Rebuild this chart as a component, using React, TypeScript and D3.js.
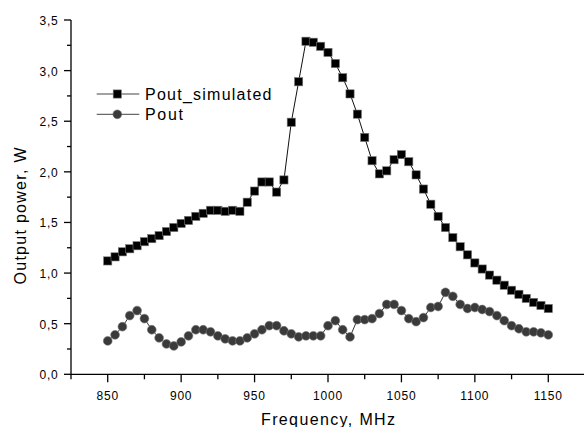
import React from "react";
import * as d3 from "d3";

const freqs: number[] = d3.range(850, 1151, 5);
const poutSimulated: number[] = [
  1.12, 1.16, 1.21, 1.24, 1.27, 1.31, 1.34, 1.37, 1.41, 1.45,
  1.49, 1.52, 1.56, 1.59, 1.62, 1.62, 1.61, 1.62, 1.61, 1.70,
  1.81, 1.90, 1.90, 1.80, 1.92, 2.49, 2.89, 3.29, 3.28, 3.24,
  3.18, 3.07, 2.93, 2.77, 2.57, 2.34, 2.11, 1.98, 2.01, 2.12,
  2.17, 2.10, 1.97, 1.83, 1.68, 1.56, 1.45, 1.35, 1.26, 1.18,
  1.10, 1.04, 0.98, 0.93, 0.88, 0.83, 0.79, 0.75, 0.71, 0.68,
  0.65,
];
const pout: number[] = [
  0.33, 0.39, 0.47, 0.58, 0.63, 0.55, 0.44, 0.36, 0.30, 0.28,
  0.32, 0.38, 0.44, 0.44, 0.42, 0.38, 0.35, 0.33, 0.33, 0.36,
  0.40, 0.44, 0.48, 0.48, 0.43, 0.40, 0.37, 0.38, 0.38, 0.38,
  0.48, 0.53, 0.44, 0.37, 0.54, 0.54, 0.55, 0.60, 0.69, 0.69,
  0.63, 0.55, 0.52, 0.56, 0.66, 0.67, 0.81, 0.77, 0.69, 0.65,
  0.66, 0.64, 0.62, 0.58, 0.53, 0.48, 0.45, 0.42, 0.42, 0.41,
  0.39,
];
const xTicks: number[] = [850, 900, 950, 1000, 1050, 1100, 1150];
const xMinor: number[] = [825, 875, 925, 975, 1025, 1075, 1125, 1175];
const yTicks: number[] = [0, 0.5, 1, 1.5, 2, 2.5, 3, 3.5];
const yMinor: number[] = [0.25, 0.75, 1.25, 1.75, 2.25, 2.75, 3.25];
const seriesNames: string[] = ["Pout_simulated", "Pout"];

const FONT = "Liberation Sans, Arial, sans-serif";

export default function App() {
  const x = d3.scaleLinear().domain([825, 1175]).range([71, 585]);
  const y = d3.scaleLinear().domain([0, 3.5]).range([374.3, 20]);
  const fmt = (v: number) => d3.format(".1f")(v).replace(".", ",");

  const line = d3
    .line<[number, number]>()
    .x((d) => x(d[0]))
    .y((d) => y(d[1]));

  const simPts: [number, number][] = freqs.map((f, i) => [f, poutSimulated[i]]);
  const measPts: [number, number][] = freqs.map((f, i) => [f, pout[i]]);

  const x0 = 71;
  const y0 = 374.3;
  const sq = 8.2;
  const r = 4.4;

  return (
    <svg
      width={584}
      height={427}
      style={{ position: "absolute", left: 0, top: 0, display: "block", background: "#fff" }}
      fontFamily={FONT}
    >
      {/* series lines */}
      <path d={line(measPts) || ""} fill="none" stroke="#333" strokeWidth={1} />
      <path d={line(simPts) || ""} fill="none" stroke="#111" strokeWidth={1} />
      {/* markers */}
      {measPts.map((d, i) => (
        <circle key={"c" + i} cx={x(d[0])} cy={y(d[1])} r={r} fill="#3a3a3a" stroke="#777" strokeWidth={0.6} />
      ))}
      {simPts.map((d, i) => (
        <rect
          key={"s" + i}
          x={x(d[0]) - sq / 2}
          y={y(d[1]) - sq / 2}
          width={sq}
          height={sq}
          fill="#000"
          stroke="#777"
          strokeWidth={0.6}
        />
      ))}

      {/* axes */}
      <line x1={x0} x2={x0} y1={y(3.5)} y2={y0} stroke="#000" strokeWidth={1.3} />
      <line x1={x0} x2={585} y1={y0} y2={y0} stroke="#000" strokeWidth={1.3} />
      {yTicks.map((t) => (
        <g key={"yt" + t}>
          <line x1={x0 - 7} x2={x0} y1={y(t)} y2={y(t)} stroke="#000" strokeWidth={1.3} />
          <text x={58.5} y={y(t) + 5} textAnchor="end" fontSize={12} letterSpacing={0.8} fill="#000">
            {fmt(t)}
          </text>
        </g>
      ))}
      {yMinor.map((t) => (
        <line key={"ym" + t} x1={x0 - 4} x2={x0} y1={y(t)} y2={y(t)} stroke="#000" strokeWidth={1.3} />
      ))}
      {xTicks.map((t) => (
        <g key={"xt" + t}>
          <line x1={x(t)} x2={x(t)} y1={y0} y2={y0 + 8} stroke="#000" strokeWidth={1.3} />
          <text x={x(t)} y={399.5} textAnchor="middle" fontSize={12} letterSpacing={0.8} fill="#000">
            {t}
          </text>
        </g>
      ))}
      {xMinor.map((t) => (
        <line key={"xm" + t} x1={x(t)} x2={x(t)} y1={y0} y2={y0 + 5} stroke="#000" strokeWidth={1.3} />
      ))}

      {/* axis titles */}
      <text
        x={328}
        y={425}
        textAnchor="middle"
        fontSize={16}
        textLength={134}
        lengthAdjust="spacing"
        fill="#000"
      >
        Frequency, MHz
      </text>
      <text
        transform="translate(25.5,216) rotate(-90)"
        textAnchor="middle"
        fontSize={16}
        textLength={137}
        lengthAdjust="spacing"
        fill="#000"
      >
        Output power, W
      </text>

      {/* legend */}
      {seriesNames.map((name, i) => {
        const ly = 94 + i * 20.3;
        return (
          <g key={"lg" + i}>
            <line x1={96.7} x2={139.3} y1={ly} y2={ly} stroke="#444" strokeWidth={1} />
            {i === 0 ? (
              <rect x={117.3 - sq / 2} y={ly - sq / 2} width={sq} height={sq} fill="#000" stroke="#777" strokeWidth={0.6} />
            ) : (
              <circle cx={117.3} cy={ly} r={r} fill="#3a3a3a" stroke="#777" strokeWidth={0.6} />
            )}
            <text
              x={145}
              y={ly + 6}
              fontSize={16}
              textLength={i === 0 ? 126.5 : 38}
              lengthAdjust="spacing"
              fill="#000"
            >
              {name}
            </text>
          </g>
        );
      })}
    </svg>
  );
}
